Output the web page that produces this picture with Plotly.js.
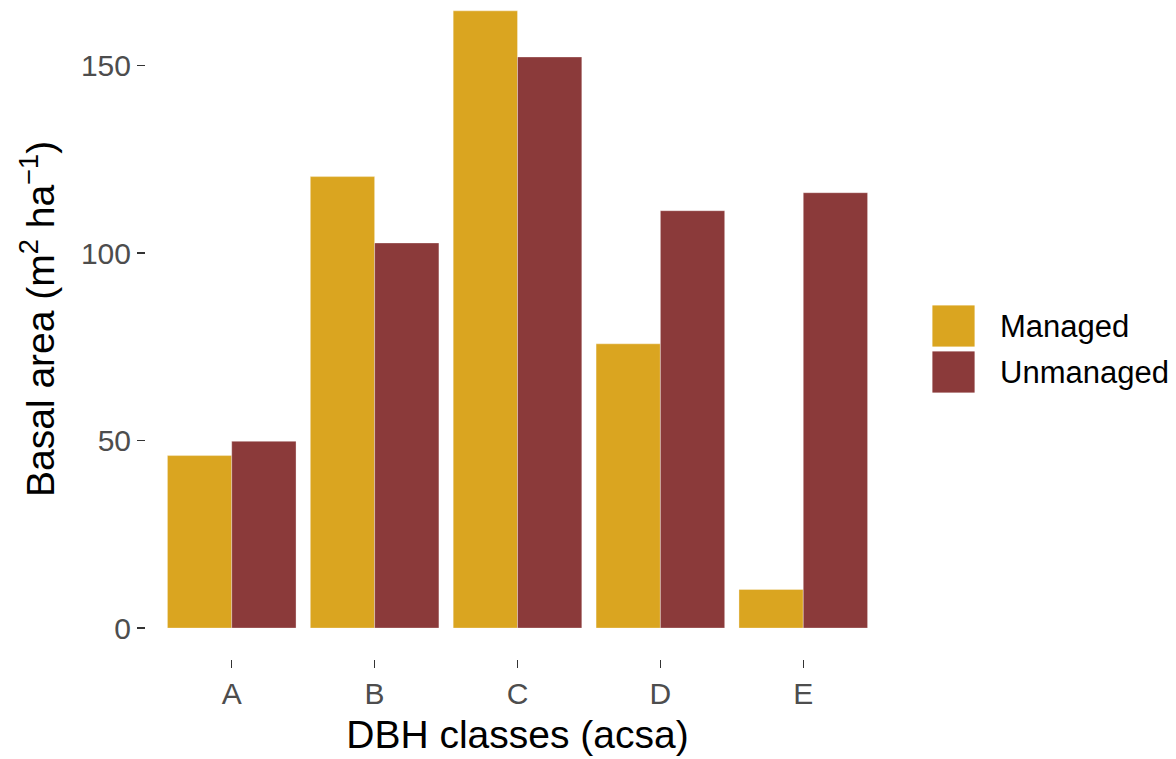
<!DOCTYPE html>
<html>
<head>
<meta charset="utf-8">
<script src="https://cdn.plot.ly/plotly-3.0.1.min.js"></script>
<style>
  html, body { margin: 0; padding: 0; background: #ffffff; }
  #chart { width: 1176px; height: 759px; }
</style>
</head>
<body>
<div id="chart"></div>
<script>
// Basal area by DBH class for managed vs unmanaged stands
const classes = ['A', 'B', 'C', 'D', 'E'];
const managed = [46.0, 120.4, 164.6, 75.8, 10.3];
const unmanaged = [49.8, 102.7, 152.3, 111.3, 116.1];
const seriesNames = ['Managed', 'Unmanaged'];
const seriesColors = ['#DAA520', '#8B3A3A'];
const yTicks = [0, 50, 100, 150];

const FONT = 'Liberation Sans, Arial, Helvetica, sans-serif';

// plot area in pixels (used for the hand-built legend and y title)
const W = 1176, H = 759;
const margin = { l: 146, r: 287, t: 0, b: 100 };
const plotW = W - margin.l - margin.r;
const plotH = H - margin.t - margin.b;
const px2x = p => (p - margin.l) / plotW;
const py2y = p => 1 - (p - margin.t) / plotH;

const seriesValues = [managed, unmanaged];
const traces = seriesNames.map((name, i) => ({
  type: 'bar',
  name: name,
  x: classes,
  y: seriesValues[i],
  marker: { color: seriesColors[i], line: { color: 'rgba(255,255,255,0.55)', width: 0.6 } },
  hoverinfo: 'x+y+name'
}));

// legend: large square keys with labels, to the right of the panel
const keyLeft = 932, keySize = 43, keyTop0 = 305, keyStep = 46;
const shapes = [];
const annotations = [];
seriesNames.forEach((name, i) => {
  const top = keyTop0 + i * keyStep;
  shapes.push({
    type: 'rect', xref: 'paper', yref: 'paper',
    x0: px2x(keyLeft), x1: px2x(keyLeft + keySize),
    y0: py2y(top + keySize - 1), y1: py2y(top),
    fillcolor: seriesColors[i],
    line: { color: 'rgba(255,255,255,0.8)', width: 1 }
  });
  annotations.push({
    xref: 'paper', yref: 'paper',
    x: px2x(998), y: py2y(top + keySize / 2 - 0.5),
    xanchor: 'left', yanchor: 'middle',
    text: name, showarrow: false,
    font: { family: FONT, size: 31, color: '#000000' }
  });
});

// rotated y-axis title with superscripts
annotations.push({
  xref: 'paper', yref: 'paper',
  x: px2x(37), y: py2y(319),
  xanchor: 'center', yanchor: 'middle',
  textangle: -90,
  text: 'Basal area (m<sup>2</sup> ha<sup>\u22121</sup>)',
  showarrow: false,
  font: { family: FONT, size: 39, color: '#000000' }
});

const layout = {
  width: W, height: H,
  margin: margin,
  paper_bgcolor: '#ffffff',
  plot_bgcolor: '#ffffff',
  barmode: 'group',
  bargap: 0.1,
  bargroupgap: 0,
  showlegend: false,
  font: { family: FONT },
  xaxis: {
    type: 'category',
    range: [-0.6, 4.6],
    showgrid: false, zeroline: false, showline: false,
    ticks: 'outside', ticklen: 8, tickwidth: 1.3, tickcolor: '#333333',
    tickfont: { family: FONT, size: 30, color: '#4D4D4D' },
    automargin: false,
    title: { text: 'DBH classes (acsa)', font: { family: FONT, size: 39, color: '#000000' }, standoff: 11 }
  },
  yaxis: {
    range: [-8.25, 167.5],
    tickvals: yTicks,
    ticktext: yTicks.map(String),
    showgrid: false, zeroline: false, showline: false,
    ticks: 'outside', ticklen: 8, tickwidth: 1.3, tickcolor: '#333333',
    tickfont: { family: FONT, size: 30, color: '#4D4D4D' },
    automargin: false
  },
  shapes: shapes,
  annotations: annotations
};

Plotly.newPlot('chart', traces, layout, { displayModeBar: false, staticPlot: true });
</script>
</body>
</html>
